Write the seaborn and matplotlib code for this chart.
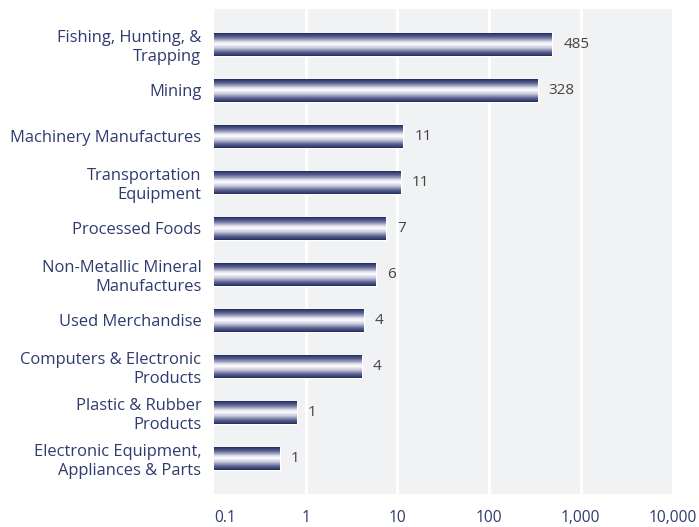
import numpy as np
import matplotlib
matplotlib.use("Agg")
import matplotlib.pyplot as plt
import seaborn as sns
from matplotlib.colors import LinearSegmentedColormap

# Data (log-scale bar lengths)
categories = [
    "Fishing, Hunting, &\nTrapping",
    "Mining",
    "Machinery Manufactures",
    "Transportation\nEquipment",
    "Processed Foods",
    "Non-Metallic Mineral\nManufactures",
    "Used Merchandise",
    "Computers & Electronic\nProducts",
    "Plastic & Rubber\nProducts",
    "Electronic Equipment,\nAppliances & Parts",
]
values = [490, 340, 11.6, 10.9, 7.5, 5.8, 4.3, 4.1, 0.8, 0.52]
value_labels = ["485", "328", "11", "11", "7", "6", "4", "4", "1", "1"]
tick_values = [0.1, 1, 10, 100, 1000, 10000]
tick_labels = ["0.1", "1", "10", "100", "1,000", "10,000"]

navy = "#1f2b5e"
text_navy = "#2e3b6e"
bg = "#f1f2f4"

sns.set_theme(style="white")
plt.rcParams["font.family"] = ["Open Sans", "DejaVu Sans"]

fig = plt.figure(figsize=(6.99, 5.27), dpi=100)
ax = fig.add_axes([0.306, 0.063, 0.656, 0.920])
ax.set_facecolor(bg)

sns.barplot(x=values, y=categories, orient="h", color=navy, width=0.5,
            saturation=1, ax=ax, log_scale=True, zorder=2)
ax.set_xscale("log")
ax.set_xlim(0.1, 10000)
ax.set_ylim(len(categories) - 0.23, -0.77)

# gradient look: stack thin strips over each bar (navy edges, white middle)
cmap = LinearSegmentedColormap.from_list("g", [navy, "#5e6390", "#c4c4da", "#ffffff"])
n_strips = 24
for p in list(ax.patches):
    x0, y0 = p.get_x(), p.get_y()
    w, h = p.get_width(), p.get_height()
    sh = h / n_strips
    for k in range(n_strips):
        t = abs((k + 0.5) / n_strips - 0.5) * 2  # 0 center -> 1 edge
        c = cmap(1 - t)
        ax.barh(y0 + (k + 0.5) * sh, w, height=sh * 1.02, left=x0,
                color=c, linewidth=0, zorder=3)

# value labels
for i, (v, lab) in enumerate(zip(values, value_labels)):
    ax.annotate(lab, (v, i), xytext=(8, 0), textcoords="offset points",
                va="center", ha="left", fontsize=11, color="#444444")

ax.set_xticks(tick_values)
ax.set_xticklabels(tick_labels)
ax.xaxis.set_minor_locator(matplotlib.ticker.NullLocator())
for g in tick_values[1:-1]:
    ax.axvline(g, color="white", linewidth=2.2, zorder=1)

ax.tick_params(axis="x", length=0, pad=12, labelsize=11.2, labelcolor=text_navy)
ax.tick_params(axis="y", length=0, pad=9, labelsize=11.9, labelcolor=text_navy)
ax.get_xticklabels()[0].set_ha("left")
for lbl in ax.get_yticklabels():
    lbl.set_linespacing(1.2)
ax.set_xlabel("")
ax.set_ylabel("")
sns.despine(ax=ax, left=True, bottom=True)

fig.savefig("out.png", dpi=100, facecolor="white")
